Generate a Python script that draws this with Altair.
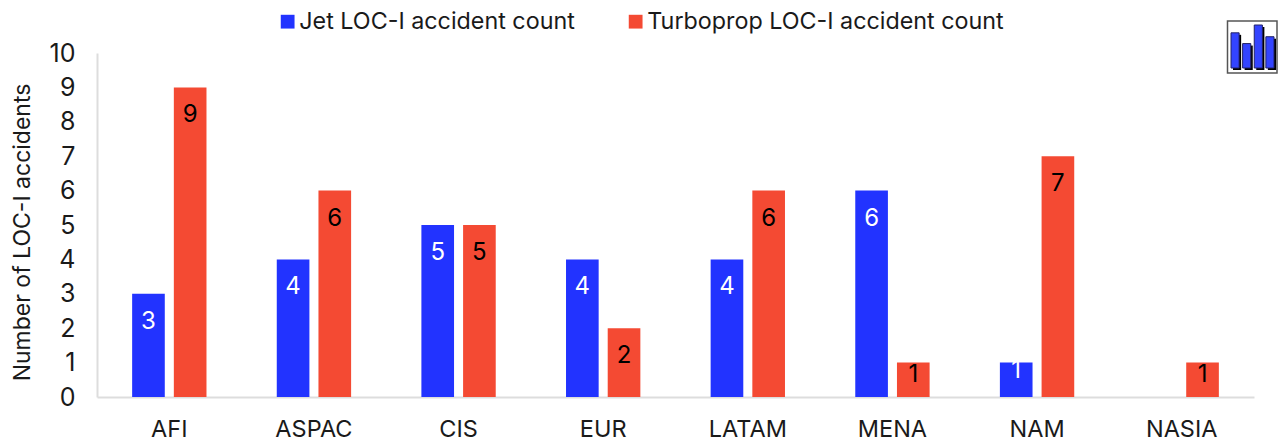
import altair as alt
import pandas as pd

regions = ["AFI", "ASPAC", "CIS", "EUR", "LATAM", "MENA", "NAM", "NASIA"]
jet = [3, 4, 5, 4, 4, 6, 1, 0]
turboprop = [9, 6, 5, 2, 6, 1, 7, 1]
series = ["Jet LOC-I accident count", "Turboprop LOC-I accident count"]
colors = ["#2233FF", "#F44A33"]
icon_index = [0, 1, 2, 3]
icon_values = [36, 25, 44, 32]

FONT = "Inter"
TEXT = "#1a1a1a"

rows = []
for i, r in enumerate(regions):
    rows.append({"region": r, "series": series[0], "value": jet[i]})
    rows.append({"region": r, "series": series[1], "value": turboprop[i]})
df = pd.DataFrame(rows)

x = alt.X("region:N", sort=regions, title=None,
          scale=alt.Scale(paddingInner=0.486, paddingOuter=0.243),
          axis=alt.Axis(labelAngle=0, labelFont=FONT, labelFontSize=23.5, labelColor=TEXT,
                        labelPadding=20, ticks=False, domainColor="#dddddd", domainWidth=2, grid=False))
y = alt.Y("value:Q", title="Number of LOC-I accidents",
          scale=alt.Scale(domain=[0, 10], nice=False),
          axis=alt.Axis(values=list(range(11)), labelFont=FONT, labelFontSize=25, labelColor=TEXT,
                        labelPadding=22, ticks=False, domainColor="#dddddd", domainWidth=2, grid=False,
                        titleFont=FONT, titleFontSize=23, titleFontWeight="normal", titleColor=TEXT,
                        titleX=-63, titleY=179))
xo = alt.XOffset("series:N", sort=series, scale=alt.Scale(paddingInner=0.217))

bars = alt.Chart(df).mark_bar().encode(
    x=x, y=y, xOffset=xo,
    color=alt.Color("series:N", sort=series, scale=alt.Scale(domain=series, range=colors),
                    legend=alt.Legend(orient="none", legendX=179, legendY=-43, direction="horizontal",
                                      title=None, symbolType="square", symbolSize=190, symbolStrokeWidth=0,
                                      labelFont=FONT, labelFontSize=23.3, labelColor=TEXT, labelOffset=0,
                                      labelLimit=500, columnPadding=49, symbolOpacity=1)),
)


def label_layer(expr, dy):
    return alt.Chart(df).transform_filter(expr).mark_text(
        font=FONT, fontSize=24, dy=dy, baseline="middle"
    ).encode(
        x=x, y=y, xOffset=xo, text="value:Q",
        color=alt.condition(alt.datum.series == series[0], alt.value("white"), alt.value("black")),
    )


labels = label_layer("datum.value > 1", 28)
label_blue_one = label_layer(f"datum.value == 1 && datum.series == '{series[0]}'", 8)
label_red_one = label_layer(f"datum.value == 1 && datum.series == '{series[1]}'", 12)
main = alt.layer(bars, labels, label_blue_one, label_red_one)

icon_df = pd.DataFrame({"i": icon_index, "v": icon_values})
icon_x = alt.X("i:O", axis=None, scale=alt.Scale(range=[1134, 1177], paddingInner=0.3, paddingOuter=0))
icon_y = alt.Y("v:Q", axis=None, scale=alt.Scale(domain=[0, 44], range=[15, -28], nice=False))
frame = alt.Chart(pd.DataFrame({"k": [0]})).mark_rect(fill="white", stroke="#555555", strokeWidth=1.5).encode(
    x=alt.value(1130.5), x2=alt.value(1180), y=alt.value(-32), y2=alt.value(20))
shadow = alt.Chart(icon_df).mark_bar(color="black", xOffset=2, yOffset=2).encode(x=icon_x, y=icon_y)
front = alt.Chart(icon_df).mark_bar(color="#3344FF", stroke="#222266", strokeWidth=1).encode(x=icon_x, y=icon_y)

chart = alt.layer(main, frame, shadow, front).resolve_scale(x="independent", y="independent").properties(
    width=1157, height=344,
    autosize=alt.AutoSizeParams(type="none"),
    padding={"left": 89, "top": 45, "right": 24, "bottom": 44},
    background="white",
).configure_view(stroke=None)

chart.save("out.html", embed_options={"renderer": "svg", "actions": False})
